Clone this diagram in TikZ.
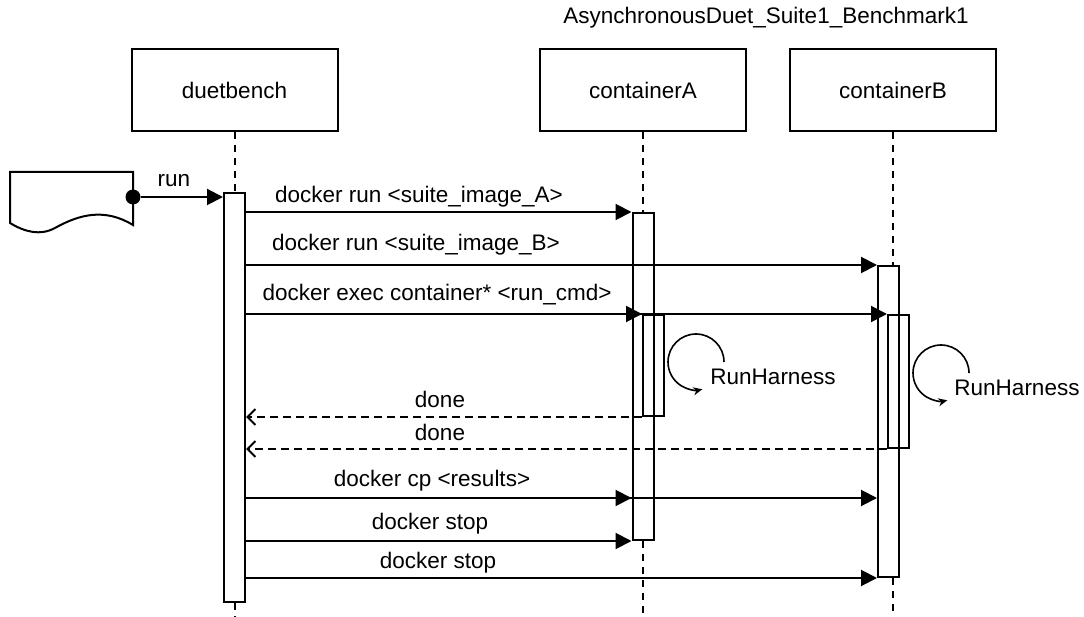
\documentclass[tikz,border=0pt]{standalone}
\usepackage{fontspec}
\setmainfont{Liberation Sans}
\usetikzlibrary{arrows.meta}
\begin{document}
\begin{tikzpicture}[x=1pt,y=-1pt,
 every node/.style={font=\fontsize{22.5}{27}\selectfont},
 hdr/.style={draw, line width=2pt, minimum width=206pt, minimum height=82pt, inner sep=0pt},
 act/.style={draw, fill=white, line width=2pt, minimum width=21pt, inner sep=0pt},
 actin/.style={draw, line width=2pt, minimum width=21pt, inner sep=0pt},
 life/.style={line width=2pt, dash pattern=on 7pt off 6pt},
 msg/.style={line width=2pt, -{Triangle[length=16pt,width=16pt]}},
 ret/.style={line width=2pt, dash pattern=on 8pt off 5pt, -{Straight Barb[length=8pt,width=16pt]}},
 selfloop/.style={line width=1.6pt, -{Stealth[length=9pt,width=8pt]}},
 lbl/.style={inner sep=0pt}
]
\useasboundingbox (0,0) rectangle (1084,617);

% title
\node[lbl] (title) at (766,18) {AsynchronousDuet\_Suite1\_Benchmark1};

% headers
\node[hdr] (dh) at (234.5,90) {duetbench};
\node[hdr] (ah) at (643,90) {containerA};
\node[hdr] (bh) at (893,90) {containerB};

% end coordinates of lifelines
\coordinate (dend) at (234.5,617);
\coordinate (aend) at (643,617);
\coordinate (bend) at (893,617);

% activation boxes
\node[act, minimum height=409pt] (da) at (234.5,397.5) {};
\node[act, minimum height=327pt] (aa) at (643,376.5) {};
\node[act, minimum height=311pt] (ba) at (888.5,421.5) {};
\node[actin, minimum height=101pt] (ai) at (653.5,365.5) {};
\node[actin, minimum height=133pt] (bi) at (898.5,381.5) {};

% lifelines
\draw[life] (dh.south) -- (da.north);
\draw[life] (da.south) -- (dend);
\draw[life] (ah.south) -- (aa.north);
\draw[life] (aa.south) -- (aend);
\draw[life] (bh.south) -- (bh.south |- ba.north);
\draw[life] (bend |- ba.south) -- (bend);

% document shape
\draw[line width=2pt] (10,172) -- (133,172) -- (133,225)
  .. controls (105,208) and (80,214) .. (55,228)
  .. controls (40,236) and (25,232) .. (10,223) -- cycle;
\node[circle, fill=black, minimum size=15pt, inner sep=0pt] (start) at (133,197) {};

% run
\draw[msg] (start) -- (da.west |- start);
\node[lbl] (lrun) at (174,181) {run};

% rows
\coordinate (rcp) at (0,498);

\draw[msg] (da.east |- aa.north) -- (aa.north west);
\node[lbl] (l1) at (419,197) {docker run <suite\_image\_A>};

\draw[msg] (da.east |- ba.north) -- (ba.north west);
\node[lbl] (l2) at (416,245) {docker run <suite\_image\_B>};

\draw[msg] (da.east |- bi.north) -- (bi.north west);
\draw[msg] (da.east |- ai.north) -- (ai.north west);
\node[lbl] (l3) at (437,295) {docker exec container* <run\_cmd>};

% self calls
\draw[selfloop] (724,362) arc[start angle=0, end angle=283, radius=28pt];
\node[lbl] (rha) at (773,377) {RunHarness};
\draw[selfloop] (969,373) arc[start angle=0, end angle=283, radius=28pt];
\node[lbl] (rhb) at (1017,388) {RunHarness};

% returns
\draw[ret] (ai.south west) -- (da.east |- ai.south);
\node[lbl] (l4) at (440,399) {done};
\draw[ret] (bi.south west) -- (da.east |- bi.south);
\node[lbl] (l5) at (440,432) {done};

% copy and stop
\draw[msg] (da.east |- rcp) -- (ba.west |- rcp);
\draw[msg] (da.east |- rcp) -- (aa.west |- rcp);
\node[lbl] (l6) at (432,481) {docker cp <results>};

\draw[msg] (da.east |- aa.south) -- (aa.south west);
\node[lbl] (l7) at (430,524) {docker stop};

\draw[msg] (da.east |- ba.south) -- (ba.south west);
\node[lbl] (l8) at (438,563) {docker stop};
\end{tikzpicture}
\end{document}
